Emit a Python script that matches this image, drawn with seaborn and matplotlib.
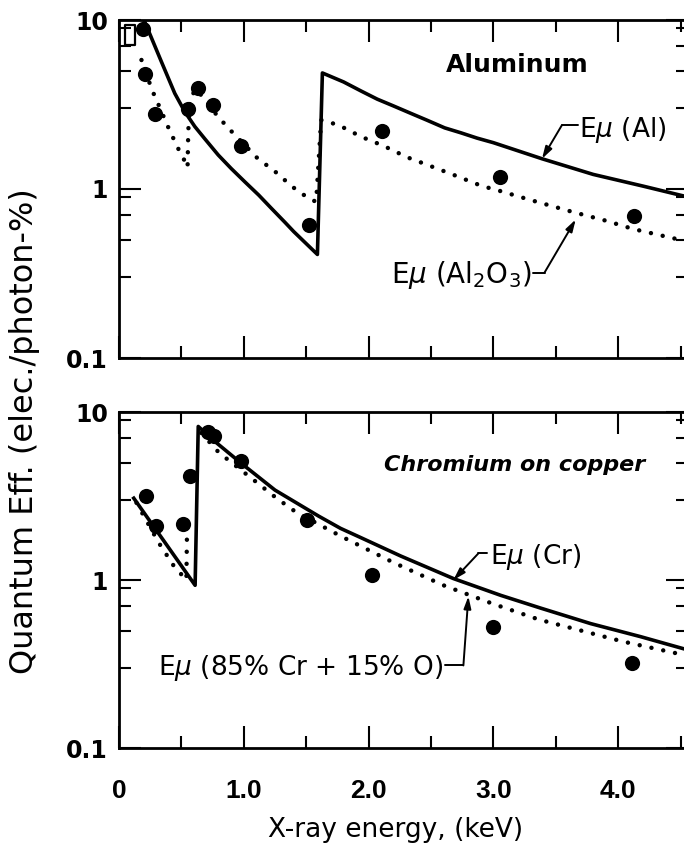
import matplotlib
matplotlib.use("Agg")
import matplotlib.pyplot as plt
from matplotlib.ticker import MultipleLocator, LogLocator, NullFormatter, FixedLocator, FixedFormatter
import numpy as np
import pandas as pd
import seaborn as sns

# ---------------- data ----------------
# Aluminum panel
al_pts_x = [0.19, 0.21, 0.29, 0.55, 0.63, 0.75, 0.98, 1.52, 2.11, 3.05, 4.13]
al_pts_y = [8.8, 4.77, 2.77, 2.97, 3.94, 3.14, 1.80, 0.61, 2.21, 1.18, 0.69]

al_curve_x = [0.18, 0.206, 0.34, 0.447, 0.528, 0.608, 0.688, 0.795, 0.90, 1.01, 1.12,
              1.22, 1.33, 1.40, 1.59, 1.63, 1.80, 1.94, 2.07, 2.20, 2.34, 2.47, 2.61,
              2.74, 2.87, 3.00, 3.39, 3.80, 4.20, 4.55]
al_curve_y = [10.8, 9.77, 5.66, 3.68, 2.86, 2.34, 1.98, 1.59, 1.32, 1.10, 0.92,
              0.77, 0.635, 0.56, 0.41, 4.86, 4.3, 3.8, 3.4, 3.1, 2.8, 2.55, 2.3,
              2.15, 2.0, 1.88, 1.51, 1.22, 1.04, 0.90]

al_box_x = [0.05, 0.05, 0.13, 0.13, 0.05]
al_box_y = [7.1, 9.4, 9.4, 7.1, 7.1]

al2o3_a_x = [0.18, 0.265, 0.305, 0.40, 0.47, 0.545]
al2o3_a_y = [5.8, 3.85, 3.3, 2.27, 1.76, 1.38]
al2o3_b_x = [0.55, 0.555, 0.57, 0.62, 0.79, 0.85, 0.91, 1.11, 1.25, 1.39, 1.52, 1.58,
             1.62, 1.76, 1.94, 2.12, 2.31, 2.47, 2.66, 2.91, 3.02, 3.30, 3.64, 3.90,
             4.12, 4.55]
al2o3_b_y = [1.40, 2.18, 3.47, 3.9, 2.7, 2.41, 2.16, 1.52, 1.27, 1.03, 0.88, 0.84,
             2.56, 2.39, 2.04, 1.80, 1.54, 1.39, 1.23, 1.04, 0.99, 0.86, 0.73, 0.65,
             0.58, 0.49]

# Chromium panel
cr_pts_x = [0.22, 0.30, 0.51, 0.57, 0.71, 0.76, 0.98, 1.51, 2.03, 3.00, 4.11]
cr_pts_y = [3.16, 2.09, 2.16, 4.15, 7.56, 7.2, 5.12, 2.29, 1.07, 0.525, 0.32]

cr_curve_x = [0.11, 0.61, 0.635, 0.77, 0.98, 1.25, 1.60, 1.775, 1.936, 2.257, 2.68,
              3.06, 3.38, 3.78, 4.18, 4.55]
cr_curve_y = [3.13, 0.93, 8.2, 6.66, 4.95, 3.43, 2.40, 2.03, 1.79, 1.39, 1.02,
              0.81, 0.68, 0.55, 0.46, 0.385]

cro_a_x = [0.14, 0.32, 0.44, 0.54, 0.545]
cro_a_y = [2.88, 1.66, 1.21, 1.0, 1.95]
cro_b_x = [0.66, 0.80, 1.10, 1.26, 1.42, 1.78, 2.20, 2.60, 3.00, 3.37, 4.04, 4.55]
cro_b_y = [7.5, 5.74, 3.83, 3.08, 2.53, 1.82, 1.27, 0.93, 0.72, 0.58, 0.43, 0.355]

x_ticks = [0, 1, 2, 3, 4]
x_ticklabels = ["0", "1.0", "2.0", "3.0", "4.0"]
y_ticks = [0.1, 1, 10]
y_ticklabels = ["0.1", "1", "10"]

# ---------------- style ----------------
sns.set_theme(style="ticks")
plt.rcParams["font.family"] = ["DejaVu Sans"]
plt.rcParams["mathtext.fontset"] = "dejavusans"
plt.rcParams["text.color"] = "black"
plt.rcParams["xtick.labelcolor"] = "black"
plt.rcParams["ytick.labelcolor"] = "black"

W, H = 684, 849
fig = plt.figure(figsize=(W / 100, H / 100), dpi=100)
fig.patch.set_facecolor("white")

left = 119 / W
width = (688 - 119) / W
ax1 = fig.add_axes([left, 1 - 358 / H, width, 338 / H])
ax2 = fig.add_axes([left, 1 - 748 / H, width, 336 / H])

solid_kw = dict(color="black", linewidth=2.6, sort=False, estimator=None,
                solid_capstyle="butt", solid_joinstyle="round")
dot_kw = dict(color="black", linewidth=3.2, sort=False, estimator=None,
              linestyle=(0, (0.01, 2.7)), dash_capstyle="round")
pt_kw = dict(color="black", s=120, edgecolor="black", linewidth=0, zorder=5)

# top panel
sns.lineplot(x=al_curve_x, y=al_curve_y, ax=ax1, **solid_kw)
sns.lineplot(x=al_box_x, y=al_box_y, ax=ax1, color="black", linewidth=1.6,
             sort=False, estimator=None)
sns.lineplot(x=al2o3_a_x, y=al2o3_a_y, ax=ax1, **dot_kw)
sns.lineplot(x=al2o3_b_x, y=al2o3_b_y, ax=ax1, **dot_kw)
sns.scatterplot(x=al_pts_x, y=al_pts_y, ax=ax1, **pt_kw)

# bottom panel
sns.lineplot(x=cr_curve_x, y=cr_curve_y, ax=ax2, **solid_kw)
sns.lineplot(x=cro_a_x, y=cro_a_y, ax=ax2, **dot_kw)
sns.lineplot(x=cro_b_x, y=cro_b_y, ax=ax2, **dot_kw)
sns.scatterplot(x=cr_pts_x, y=cr_pts_y, ax=ax2, **pt_kw)

for ax in (ax1, ax2):
    ax.set_yscale("log")
    ax.set_ylim(0.1, 10)
    ax.set_xlim(0, 4.56)
    ax.set_facecolor("white")
    for sp in ax.spines.values():
        sp.set_visible(True)
        sp.set_linewidth(2.0)
        sp.set_color("black")
    ax.xaxis.set_major_locator(FixedLocator(x_ticks))
    ax.xaxis.set_minor_locator(MultipleLocator(0.5))
    ax.yaxis.set_major_locator(FixedLocator(y_ticks))
    ax.yaxis.set_major_formatter(FixedFormatter(y_ticklabels))
    ax.yaxis.set_minor_locator(LogLocator(base=10, subs=[3, 5, 7, 9]))
    ax.yaxis.set_minor_formatter(NullFormatter())
    ax.tick_params(which="both", direction="in", top=True, right=True,
                   color="black", labelcolor="black", width=1.5)
    ax.tick_params(which="major", length=16)
    ax.tick_params(which="minor", length=8.5)
    ax.tick_params(axis="y", which="major", pad=8)
    ax.set_xlabel("")
    ax.set_ylabel("")
    for lab in ax.get_yticklabels():
        lab.set_fontsize(17)
        lab.set_fontweight("bold")

ax1.xaxis.set_major_formatter(NullFormatter())
ax2.xaxis.set_major_formatter(FixedFormatter(x_ticklabels))
ax2.tick_params(axis="x", which="major", pad=22)
for lab in ax2.get_xticklabels():
    lab.set_fontsize(19)
    lab.set_family(["Liberation Sans", "DejaVu Sans"])
    lab.set_fontweight("bold")

# annotations
ann_fs = 19
arrow = dict(arrowstyle="-|>,head_length=0.6,head_width=0.18",
             color="black", lw=1.4, shrinkA=0, shrinkB=0)
ax1.text(3.19, 5.42, "Aluminum", ha="center", va="center", fontsize=18,
         fontweight="bold")
ax1.text(3.69, 2.23, r"E$\mu$ (Al)", ha="left", va="center", fontsize=ann_fs)
ax1.plot([3.55, 3.68], [2.39, 2.39], color="black", lw=1.4)
ax1.annotate("", xy=(3.39, 1.51), xytext=(3.55, 2.39), arrowprops=arrow)
ax1.text(3.31, 0.278, r"E$\mu$ (Al$_2$O$_3$)", ha="right", va="baseline",
         fontsize=20)
ax1.plot([3.32, 3.41], [0.32, 0.32], color="black", lw=1.4)
ax1.annotate("", xy=(3.66, 0.66), xytext=(3.41, 0.32), arrowprops=arrow)

ax2.text(3.17, 4.84, "Chromium on copper", ha="center", va="center",
         fontsize=16, fontweight="bold", fontstyle="italic")
ax2.text(2.975, 1.37, r"E$\mu$ (Cr)", ha="left", va="center", fontsize=ann_fs)
ax2.plot([2.88, 2.95], [1.44, 1.44], color="black", lw=1.4)
ax2.annotate("", xy=(2.68, 1.0), xytext=(2.88, 1.44), arrowprops=arrow)
ax2.text(0.315, 0.30, r"E$\mu$ (85% Cr + 15% O)", ha="left", va="center",
         fontsize=ann_fs)
ax2.plot([2.615, 2.76], [0.31, 0.31], color="black", lw=1.4)
ax2.annotate("", xy=(2.80, 0.80), xytext=(2.76, 0.31), arrowprops=arrow)

fig.text(25 / W, 1 - 431 / H, "Quantum Eff. (elec./photon-%)", rotation=90,
         ha="center", va="center", fontsize=23)
fig.text(396 / W, 1 - 830 / H, "X-ray energy, (keV)", ha="center", va="center",
         fontsize=19)

fig.savefig("out.png", dpi=100, facecolor="white")
